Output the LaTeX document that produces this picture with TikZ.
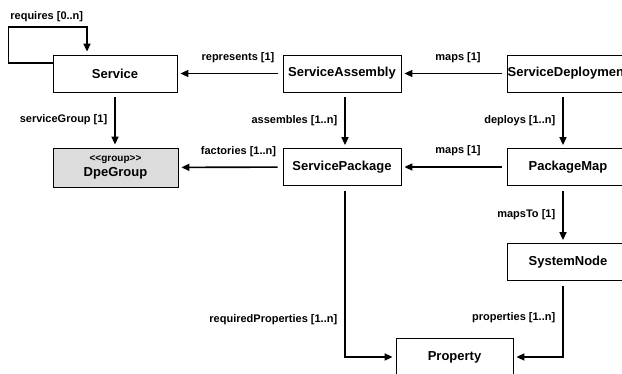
\documentclass[tikz,border=0pt]{standalone}
\usepackage{fontspec}
\setmainfont{Liberation Sans}
\usetikzlibrary{arrows.meta, positioning}
\definecolor{groupgray}{RGB}{220,220,220}
\tikzset{
	classbox/.style={draw, line width=0.8pt, minimum height=37pt, inner xsep=0pt, font=\fontsize{13}{15}\selectfont\bfseries, align=center},
	assocarr/.style={-{Triangle[length=8pt, width=7pt]}, line width=1.6pt, shorten <=5pt, shorten >=3pt},
	rolelabel/.style={font=\fontsize{11}{13}\selectfont\bfseries, inner sep=1pt},
}

\begin{document}
\begin{tikzpicture}[x=1pt, y=-1pt]
	\useasboundingbox (0,0) rectangle (622,374);
	\clip (0,0) rectangle (622,374);
	% classes
	\node[classbox, minimum width=124pt] (svc) at (115,73.5) {Service};
	\node[classbox, minimum width=118pt] (asm) at (342,73.5) {ServiceAssembly};
	\node[classbox, minimum width=122pt] (dep) at (568,73.5) {ServiceDeployment};
	\node[classbox, minimum width=125pt, minimum height=39pt, fill=groupgray] (grp) at (115.5,167.5)
		{{\fontsize{10}{12}\selectfont <{}<group>{}>}\\DpeGroup};
	\node[classbox, minimum width=118pt] (pkg) at (342,167) {ServicePackage};
	\node[classbox, minimum width=122pt] (pmap) at (568,167) {PackageMap};
	\node[classbox, minimum width=122pt] (sys) at (568,262) {SystemNode};
	\node[classbox, minimum width=117pt] (prop) at (454.5,357) {Property};
	% associations
	\draw[assocarr, shorten <=0pt] ([yshift=10.5pt]svc.west) -- ++(-44,0) -- ++(0,-36)
		node[rolelabel, above right=3pt and 0pt] {requires [0..n]}
		-| ([xshift=-28pt]svc.north);
	\draw[assocarr] (asm) -- (svc) node[rolelabel, midway, above=9pt, xshift=8pt] {represents [1]};
	\draw[assocarr] (dep) -- (asm) node[rolelabel, midway, above=9pt, xshift=4pt] {maps [1]};
	\draw[assocarr] (svc.south) -- (svc.south |- grp.north) node[rolelabel, midway, left=6pt] {serviceGroup [1]};
	\draw[assocarr] ([xshift=3pt]asm.south) -- ([xshift=3pt]pkg.north) node[rolelabel, midway, left=6pt] {assembles [1..n]};
	\draw[assocarr] ([xshift=-5pt]dep.south) -- ([xshift=-5pt]pmap.north) node[rolelabel, midway, left=6pt] {deploys [1..n]};
	\draw[assocarr] (pkg) -- (grp) node[rolelabel, midway, above=9pt, xshift=8pt] {factories [1..n]};
	\draw[assocarr] (pmap) -- (pkg) node[rolelabel, midway, above=9pt, xshift=4pt] {maps [1]};
	\draw[assocarr] ([xshift=-5pt]pmap.south) -- ([xshift=-5pt]sys.north) node[rolelabel, midway, left=6pt] {mapsTo [1]};
	\draw[assocarr] ([xshift=3pt]pkg.south) |- (prop.west) node[rolelabel, pos=0.39, left=6pt] {requiredProperties [1..n]};
	\draw[assocarr] ([xshift=-5pt]sys.south) |- (prop.east) node[rolelabel, pos=0.24, left=6pt] {properties [1..n]};
\end{tikzpicture}
\end{document}
